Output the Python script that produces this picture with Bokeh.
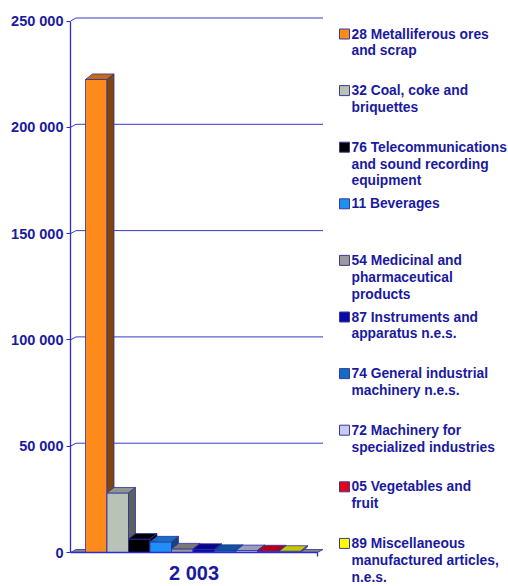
import numpy as np
from bokeh.plotting import figure
from bokeh.models import Range1d, FixedTicker
from bokeh.core.properties import value
from bokeh.embed import file_html
from bokeh.resources import INLINE

# ---------------- data ----------------
categories = ["2 003"]
series_labels = [
    ["28 Metalliferous ores", "and scrap"],
    ["32 Coal, coke and", "briquettes"],
    ["76 Telecommunications", "and sound recording", "equipment"],
    ["11 Beverages"],
    ["54 Medicinal and", "pharmaceutical", "products"],
    ["87 Instruments and", "apparatus n.e.s."],
    ["74 General industrial", "machinery n.e.s."],
    ["72 Machinery for", "specialized industries"],
    ["05 Vegetables and", "fruit"],
    ["89 Miscellaneous", "manufactured articles,", "n.e.s."],
]
values_2003 = [222500, 28000, 6300, 5000, 1700, 1500, 1000, 900, 800, 600]
colors = ["#FF8A1C", "#B8C2B6", "#000000", "#1E8FF5", "#9A9A9A",
          "#0A0AA8", "#0F6EC4", "#C8C8F2", "#E8001A", "#FFFF00"]
y_ticks = [0, 50000, 100000, 150000, 200000, 250000]
y_tick_labels = ["0", "50 000", "100 000", "150 000", "200 000", "250 000"]

# ---------------- layout constants ----------------
W, H = 508, 586
FRAME_LEFT = 70
ZERO_PX, TOP_PX = 552.0, 20.5
K = (ZERO_PX - TOP_PX) / y_ticks[-1]          # px per unit
BAR_PX, BAR0_PX = 21.5, 85.0

def px_x(px):
    return (px - BAR0_PX) / BAR_PX

def px_y(py):
    return (ZERO_PX - py) / K

TEXT = "#1A1AA0"
AXIS = "#2B2BD0"
GRID = "#3A3AC8"
EDGE = "#3030A8"
FONT = value("Liberation Sans")

x_start, x_end = px_x(FRAME_LEFT), px_x(W)
y_start, y_end = px_y(H), px_y(0)

p = figure(width=W, height=H, output_backend="svg", toolbar_location=None,
           x_range=Range1d(x_start, x_end), y_range=Range1d(y_start, y_end),
           min_border_left=FRAME_LEFT, min_border_right=0,
           min_border_top=0, min_border_bottom=0,
           x_axis_location=None, y_axis_location="left")
p.outline_line_color = None
p.xgrid.visible = False
p.ygrid.visible = False
p.background_fill_color = "white"
p.border_fill_color = "white"

ax = p.yaxis[0]
ax.ticker = FixedTicker(ticks=y_ticks)
ax.major_label_overrides = {t: l for t, l in zip(y_ticks, y_tick_labels)}
ax.bounds = (y_ticks[0], y_ticks[-1])
ax.axis_line_color = AXIS
ax.axis_line_width = 1.3
ax.major_tick_line_color = AXIS
ax.major_tick_out = 4
ax.major_tick_in = 0
ax.minor_tick_line_color = None
ax.major_label_standoff = 3
ax.major_label_text_font = "Liberation Sans"
ax.major_label_text_font_style = "bold"
ax.major_label_text_font_size = "14.5px"
ax.major_label_text_color = TEXT

# depth offsets
wdx, wdy = 5.5 / BAR_PX, 3.0 / K      # walls / floor
bdx, bdy = 7.0 / BAR_PX, 5.5 / K      # bars
n = len(values_2003)
floor_l = x_start
floor_r = n + px_x(317) - px_x(300)

# back-wall gridlines with diagonal connectors
gv = [t for t in y_ticks if t > 0]
p.segment(x0=[floor_l + wdx] * len(gv), y0=[t + wdy for t in gv],
          x1=[floor_r + wdx] * len(gv), y1=[t + wdy for t in gv],
          line_color=GRID, line_width=1)
p.segment(x0=[floor_l] * len(gv), y0=gv,
          x1=[floor_l + wdx] * len(gv), y1=[t + wdy for t in gv],
          line_color=GRID, line_width=1)

# floor
p.patch([floor_l, floor_r, floor_r + wdx, floor_l + wdx], [0, 0, wdy, wdy],
        fill_color="#858585", line_color=EDGE, line_width=0.8)

# 3D bars: per bar front, top, side in drawing order
def shade(hexc, f):
    h = hexc.lstrip("#")
    r, g, b = (int(h[i:i + 2], 16) for i in (0, 2, 4))
    return "#%02x%02x%02x" % (int(r * f), int(g * f), int(b * f))

xs, ys, fills = [], [], []
for i, (v, c) in enumerate(zip(values_2003, colors)):
    l, r = i, i + 1
    xs.append([l, r, r, l]); ys.append([0, 0, v, v]); fills.append(c)
    xs.append([l, r, r + bdx, l + bdx]); ys.append([v, v, v + bdy, v + bdy]); fills.append(shade(c, 0.78))
    xs.append([r, r + bdx, r + bdx, r]); ys.append([0, bdy, v + bdy, v]); fills.append(shade(c, 0.5))
p.patches(xs, ys, fill_color=fills, line_color=EDGE, line_width=0.8)

# front floor edge (category axis) with end tick
p.segment(x0=[floor_l], y0=[0], x1=[floor_r], y1=[0], line_color=AXIS, line_width=1.3)
p.segment(x0=[floor_r], y0=[0], x1=[floor_r], y1=[-4 / K], line_color=AXIS, line_width=1.3)

# category label
p.text(x=[(floor_l + floor_r) / 2], y=[px_y(572.5)], text=categories,
       text_font=FONT, text_font_style="bold", text_font_size="20px",
       text_color=TEXT, text_align="center", text_baseline="middle")

# legend
lx, ly, lty = [], [], []
sq_y = []
for i, lines in enumerate(series_labels):
    y0 = 33.5 + 56.6 * i
    sq_y.append(px_y(y0))
    for j, line in enumerate(lines):
        lx.append(px_x(351)); ly.append(px_y(y0 + 16.8 * j)); lty.append(line)
p.rect(x=[px_x(344)] * n, y=sq_y, width=10, height=10,
       width_units="screen", height_units="screen",
       fill_color=colors, line_color="#3A3A9A", line_width=1)
p.text(x=lx, y=ly, text=lty, text_font=FONT, text_font_style="bold",
       text_font_size="13.8px", text_color=TEXT, text_align="left",
       text_baseline="middle")

open("out.html", "w").write(file_html(p, INLINE))
